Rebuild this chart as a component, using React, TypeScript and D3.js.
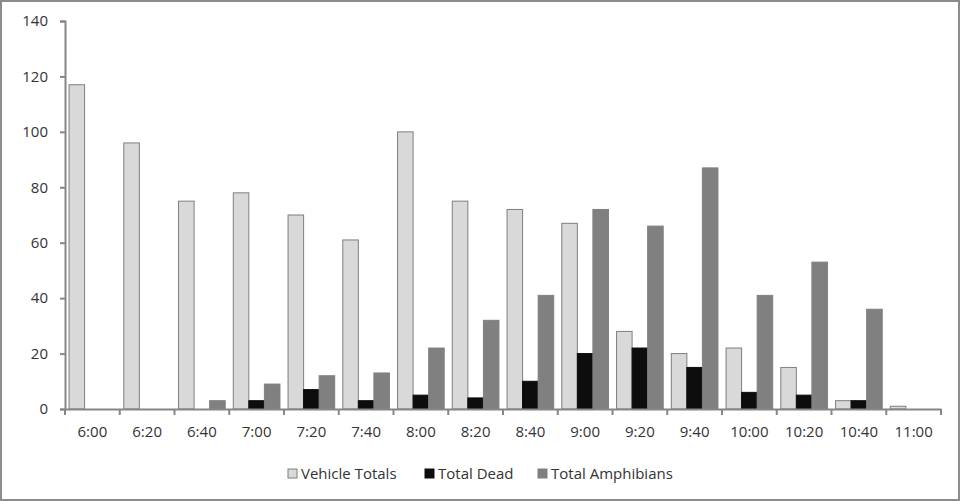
import { useEffect, useRef } from 'react'
import * as d3 from 'd3'

const times = ['6:00', '6:20', '6:40', '7:00', '7:20', '7:40', '8:00', '8:20', '8:40', '9:00', '9:20', '9:40', '10:00', '10:20', '10:40', '11:00']
const vehicleTotals = [117, 96, 75, 78, 70, 61, 100, 75, 72, 67, 28, 20, 22, 15, 3, 1]
const totalDead = [0, 0, 0, 3, 7, 3, 5, 4, 10, 20, 22, 15, 6, 5, 3, 0]
const totalAmphibians = [0, 0, 3, 9, 12, 13, 22, 32, 41, 72, 66, 87, 41, 53, 36, 0]
const yTicks = [0, 20, 40, 60, 80, 100, 120, 140]

const seriesNames = ['Vehicle Totals', 'Total Dead', 'Total Amphibians']
const seriesValues = [vehicleTotals, totalDead, totalAmphibians]
const seriesFill = ['#d9d9d9', '#0d0d0d', '#808080']
const seriesStroke = ['#7f7f7f', '#0d0d0d', '#808080']

export default function App() {
  const svgRef = useRef<SVGSVGElement>(null)

  useEffect(() => {
    if (!svgRef.current) return
    const svg = d3.select(svgRef.current)
    svg.selectAll('*').remove()

    const W = 960
    const H = 501
    const margin = { top: 21, right: 19, bottom: 92, left: 65 }
    const font = 'Open Sans, Noto Sans, sans-serif'

    // outer frame
    svg.append('rect')
      .attr('x', 1).attr('y', 1)
      .attr('width', W - 2).attr('height', H - 2)
      .style('fill', 'white')
      .style('stroke', '#8c8c8c')
      .style('stroke-width', 2)

    const x = d3.scaleBand<string>()
      .domain(times)
      .range([margin.left, W - margin.right])

    const inner = d3.scaleBand<number>()
      .domain([0, 1, 2])
      .range([0, x.bandwidth()])
      .paddingOuter(0.26)

    const y = d3.scaleLinear()
      .domain([0, 140])
      .range([H - margin.bottom, margin.top])

    // bars
    seriesValues.forEach((vals, s) => {
      svg.append('g')
        .selectAll('rect')
        .data(vals)
        .enter()
        .append('rect')
        .attr('x', (_, i) => (x(times[i]) as number) + (inner(s) as number))
        .attr('y', d => y(d))
        .attr('width', inner.bandwidth())
        .attr('height', d => y(0) - y(d))
        .style('fill', seriesFill[s])
        .style('stroke', d => (d > 0 ? seriesStroke[s] : 'none'))
        .style('stroke-width', 1)
    })

    // y axis
    const yAxis = svg.append('g')
      .attr('transform', `translate(${margin.left},0)`)
      .call(d3.axisLeft(y).tickValues(yTicks).tickSize(5).tickPadding(12))
    yAxis.select('.domain').style('stroke', '#868686').style('stroke-width', 2)
    yAxis.selectAll('.tick line').style('stroke', '#868686').style('stroke-width', 2)
    yAxis.selectAll('.tick text')
      .style('font-family', font)
      .style('font-size', '15px')
      .style('fill', '#333333')

    // x axis
    const xAxis = svg.append('g')
      .attr('transform', `translate(0,${y(0)})`)
      .call(d3.axisBottom(x).tickSize(0).tickPadding(17))
    xAxis.select('.domain').style('stroke', '#868686').style('stroke-width', 2)
    xAxis.selectAll('.tick text')
      .style('font-family', font)
      .style('font-size', '15px')
      .style('fill', '#333333')

    // category separator ticks
    const edges = times.map(t => x(t) as number).concat([W - margin.right])
    xAxis.append('g')
      .selectAll('line')
      .data(edges)
      .enter()
      .append('line')
      .attr('x1', d => d).attr('x2', d => d)
      .attr('y1', 0).attr('y2', 6)
      .style('stroke', '#868686')
      .style('stroke-width', 2)

    // legend
    const legendX = [288, 425, 538]
    const legend = svg.append('g')
      .selectAll('g')
      .data(seriesNames)
      .enter()
      .append('g')
      .attr('transform', (_, i) => `translate(${legendX[i]},469)`)
    legend.append('rect')
      .attr('width', 9).attr('height', 9)
      .style('fill', (_, i) => seriesFill[i])
      .style('stroke', (_, i) => seriesStroke[i])
    legend.append('text')
      .attr('x', 13).attr('y', 10)
      .style('font-family', font)
      .style('font-size', '15px')
      .style('fill', '#333333')
      .text(d => d)
  }, [])

  return (
    <svg
      ref={svgRef}
      width={960}
      height={501}
      style={{ position: 'absolute', left: 0, top: 0, display: 'block' }}
    />
  )
}
